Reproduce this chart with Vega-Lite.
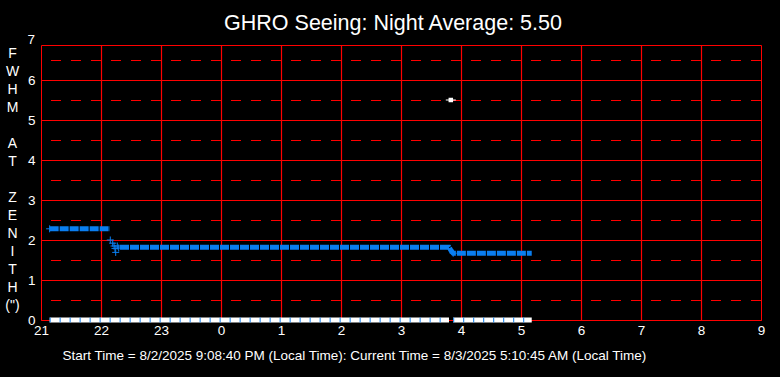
{
  "$schema": "https://vega.github.io/schema/vega-lite/v6.json",
  "autosize": {"type": "none"},
  "padding": {"left": 41, "top": 45, "right": 19, "bottom": 57},
  "width": 720,
  "height": 275,
  "background": "black",
  "title": {
    "text": "GHRO Seeing: Night Average: 5.50",
    "color": "white",
    "font": "Liberation Sans",
    "fontSize": 21.5,
    "fontWeight": "normal",
    "anchor": "middle",
    "frame": "group",
    "offset": 1,
    "dx": -8,
    "dy": 2
  },
  "config": {
    "view": {"stroke": "#ff0000", "strokeWidth": 1},
    "axis": {
      "labelFont": "Liberation Sans",
      "titleFont": "Liberation Sans",
      "labelColor": "white",
      "titleColor": "white",
      "labelFontSize": 13.5,
      "gridColor": "#ff0000",
      "gridOpacity": 1,
      "gridWidth": 1,
      "domain": false,
      "ticks": false,
      "labelFlush": false
    }
  },
  "data": {
    "values": [
      {"kind": "half", "fwhm": 0.5},
      {"kind": "half", "fwhm": 1.5},
      {"kind": "half", "fwhm": 2.5},
      {"kind": "half", "fwhm": 3.5},
      {"kind": "half", "fwhm": 4.5},
      {"kind": "half", "fwhm": 5.5},
      {"kind": "half", "fwhm": 6.5},
      {"kind": "vgrid", "hour": 22},
      {"kind": "vgrid", "hour": 23},
      {"kind": "vgrid", "hour": 24},
      {"kind": "vgrid", "hour": 25},
      {"kind": "vgrid", "hour": 26},
      {"kind": "vgrid", "hour": 27},
      {"kind": "vgrid", "hour": 28},
      {"kind": "vgrid", "hour": 29},
      {"kind": "vgrid", "hour": 30},
      {"kind": "vgrid", "hour": 31},
      {"kind": "vgrid", "hour": 32},
      {"kind": "line", "seg": "A", "hour": 21.144, "fwhm": 2.28},
      {"kind": "line", "seg": "A", "hour": 22.15, "fwhm": 2.28},
      {"kind": "line", "seg": "B", "hour": 22.317, "fwhm": 1.82},
      {"kind": "line", "seg": "B", "hour": 27.8, "fwhm": 1.82},
      {"kind": "line", "seg": "B", "hour": 27.84, "fwhm": 1.72},
      {"kind": "line", "seg": "B", "hour": 27.87, "fwhm": 1.67},
      {"kind": "line", "seg": "B", "hour": 29.179, "fwhm": 1.67},
      {"kind": "scatter", "hour": 21.144, "fwhm": 2.28},
      {"kind": "scatter", "hour": 22.155, "fwhm": 2.0},
      {"kind": "scatter", "hour": 22.195, "fwhm": 1.92},
      {"kind": "scatter", "hour": 22.217, "fwhm": 1.85},
      {"kind": "scatter", "hour": 22.233, "fwhm": 1.79},
      {"kind": "scatter", "hour": 22.245, "fwhm": 1.69},
      {"kind": "scatter", "hour": 22.272, "fwhm": 1.85},
      {"kind": "scatter", "hour": 22.295, "fwhm": 1.8},
      {"kind": "scatter", "hour": 27.87, "fwhm": 1.67},
      {"kind": "zero", "seg": "A", "hour": 21.144, "fwhm": 0},
      {"kind": "zero", "seg": "A", "hour": 27.8, "fwhm": 0},
      {"kind": "zero", "seg": "B", "hour": 27.87, "fwhm": 0},
      {"kind": "zero", "seg": "B", "hour": 29.179, "fwhm": 0},
      {"kind": "avg", "hour": 27.83, "fwhm": 5.5},
      {"kind": "ylabel", "hour": 21, "fwhm": 7, "text": "7"}
    ]
  },
  "encoding": {
    "x": {
      "field": "hour",
      "type": "quantitative",
      "scale": {"domain": [21, 33], "nice": false, "zero": false},
      "axis": {
        "values": [21, 22, 23, 24, 25, 26, 27, 28, 29, 30, 31, 32, 33],
        "labelExpr": "datum.value % 24",
        "labelPadding": 3,
        "grid": false,
        "title": "Start Time = 8/2/2025 9:08:40 PM (Local Time): Current Time = 8/3/2025 5:10:45 AM (Local Time)",
        "titleFontSize": 13.5,
        "titleFontWeight": "normal",
        "titleAnchor": "start",
        "titleAlign": "left",
        "titleBaseline": "middle",
        "titleX": 21,
        "titleY": 35
      }
    },
    "y": {
      "field": "fwhm",
      "type": "quantitative",
      "scale": {"domain": [0, 6.875], "nice": false},
      "axis": {
        "values": [0, 1, 2, 3, 4, 5, 6],
        "labelPadding": 6,
        "grid": true,
        "gridColor": "#ff0000",
        "title": ["F", "W", "H", "M", "\u200b", "A", "T", "\u200b", "Z", "E", "N", "I", "T", "H", "(\")"],
        "titleAngle": 0,
        "titleFontSize": 14,
        "titleFontWeight": "normal",
        "titleLineHeight": 18,
        "titleAlign": "center",
        "titleBaseline": "middle",
        "titleX": -29,
        "titleY": 8
      }
    }
  },
  "layer": [
    {
      "transform": [{"filter": "datum.kind === 'vgrid'"}],
      "mark": {"type": "rule", "color": "#ff0000", "strokeWidth": 1.2, "xOffset": 0.5},
      "encoding": {"y": null}
    },
    {
      "transform": [{"filter": "datum.kind === 'half'"}],
      "mark": {"type": "rule", "color": "#ff0000", "strokeWidth": 1, "strokeDash": [10, 10], "yOffset": 0.5},
      "encoding": {"x": null}
    },
    {
      "transform": [{"filter": "datum.kind === 'line'"}],
      "mark": {"type": "line", "color": "#0a7ef0", "strokeWidth": 5, "strokeDash": [9, 1], "strokeCap": "butt"},
      "encoding": {"detail": {"field": "seg"}}
    },
    {
      "transform": [{"filter": "datum.kind === 'scatter'"}],
      "mark": {"type": "point", "shape": "M-1,0L1,0M0,-1L0,1", "filled": false, "size": 49, "strokeWidth": 1, "color": "#0a7ef0", "opacity": 1}
    },
    {
      "transform": [{"filter": "datum.kind === 'zero'"}],
      "mark": {"type": "line", "color": "white", "strokeWidth": 5, "strokeCap": "butt"},
      "encoding": {"detail": {"field": "seg"}}
    },
    {
      "transform": [{"filter": "datum.kind === 'zero'"}],
      "mark": {"type": "line", "color": "#0a7ef0", "strokeWidth": 5, "strokeDash": [1, 9], "strokeCap": "butt"},
      "encoding": {"detail": {"field": "seg"}}
    },
    {
      "transform": [{"filter": "datum.kind === 'avg'"}],
      "mark": {"type": "point", "shape": "square", "filled": true, "size": 20, "color": "white", "opacity": 1}
    },
    {
      "transform": [{"filter": "datum.kind === 'avg'"}],
      "mark": {"type": "point", "shape": "M-1,0L1,0", "filled": false, "size": 100, "strokeWidth": 1, "color": "white", "opacity": 1}
    },
    {
      "transform": [{"filter": "datum.kind === 'ylabel'"}],
      "mark": {"type": "text", "color": "white", "font": "Liberation Sans", "fontSize": 13.5, "align": "right", "baseline": "middle", "dx": -6},
      "encoding": {"text": {"field": "text"}}
    }
  ]
}
